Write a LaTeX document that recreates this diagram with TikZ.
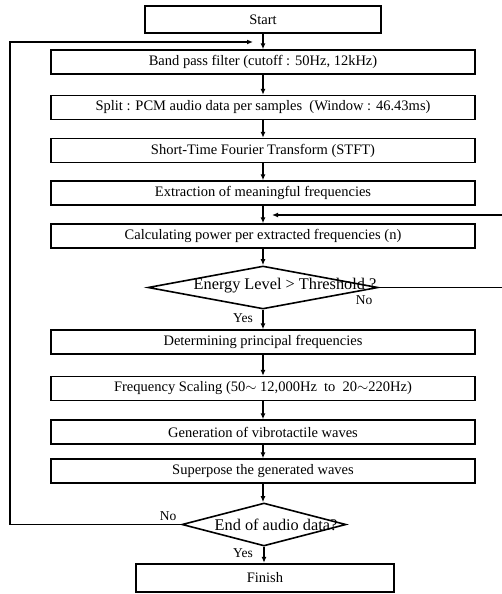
\documentclass[tikz,border=0pt]{standalone}
\usepackage{fontspec}
\setmainfont{Liberation Serif}
\usetikzlibrary{arrows.meta,shapes.geometric}

\begin{document}
\begin{tikzpicture}[x=1pt,y=-1pt,
    box/.style={draw, line width=1.4pt, minimum width=424pt, minimum height=24pt, inner sep=0pt, font=\fontsize{14.5}{17}\selectfont},
    endbox/.style={draw, line width=2.4pt, minimum height=27pt, inner sep=0pt, font=\fontsize{14.5}{17}\selectfont},
    decision/.style={draw, diamond, line width=1.6pt, inner sep=0pt, minimum height=43pt},
    dtext/.style={inner sep=0pt, font=\fontsize{16.3}{19}\selectfont},
    lbl/.style={inner sep=0pt, font=\fontsize{13.5}{16}\selectfont},
    flow/.style={line width=1.3pt, -{Latex[length=6pt,width=5pt]}},
    loopline/.style={line width=1.3pt}]
    \useasboundingbox (0,0) rectangle (502,594);
    %%Các khối
    \node[endbox, minimum width=236pt] (start) at (263,19.5) {Start};
    \node[box] (band) at (263,62) {Band pass filter (cutoff : 50Hz, 12kHz)};
    \node[box] (split) at (263,107.5) {Split : PCM audio data per samples\ \ (Window : 46.43ms)};
    \node[box] (stft) at (263,150.5) {Short-Time Fourier Transform (STFT)};
    \node[box] (extr) at (263,193) {Extraction of meaningful frequencies};
    \node[box] (calc) at (263,236) {Calculating power per extracted frequencies (n)};
    \node[decision, minimum width=230pt] (energy) at (263,287.5) {};
    \node[dtext] (energytxt) at (285,285.5) {Energy Level > Threshold ?};
    \node[box] (det) at (263,342) {Determining principal frequencies};
    \node[box] (scal) at (263,388.5) {Frequency Scaling (50$\sim$ 12,000Hz\ \ to\ \ 20$\sim$220Hz)};
    \node[box] (gen) at (263,432) {Generation of vibrotactile waves};
    \node[box] (sup) at (263,471) {Superpose the generated waves};
    \node[decision, minimum width=164pt] (audio) at (264,524.5) {};
    \node[dtext] (audiotxt) at (276,524.5) {End of audio data?};
    \node[endbox, minimum width=258pt, minimum height=28pt] (finish) at (265,578) {Finish};
    %%Các mũi tên
    \draw[flow] (start) -- (band);
    \draw[flow] (band) -- (split);
    \draw[flow] (split) -- (stft);
    \draw[flow] (stft) -- (extr);
    \draw[flow] (extr) -- (calc);
    \draw[flow] (calc) -- (energy);
    \draw[flow] (energy) -- (det);
    \draw[flow] (det) -- (scal);
    \draw[flow] (scal) -- (gen);
    \draw[flow] (gen) -- (sup);
    \draw[flow] (sup.south) -- (audio.north -| sup.south);
    \draw[flow] (audio.south) -- (finish.north -| audio.south);
    %%Vòng lặp
    \coordinate (topin) at (253,42);
    \coordinate (midin) at (272,215);
    \coordinate (leftc) at (10,524.5);
    \coordinate (rightc) at (506,287.5);
    \draw[loopline] (audio.west) -- (leftc);
    \draw[flow] (leftc) |- (topin);
    \draw[loopline] (energy.east) -- (rightc);
    \draw[flow] (rightc) |- (midin);
    %%Nhãn
    \node[lbl] (no1) at (364,300) {No};
    \node[lbl] (yes1) at (243,318) {Yes};
    \node[lbl] (no2) at (168,516) {No};
    \node[lbl] (yes2) at (243,553) {Yes};
\end{tikzpicture}
\end{document}
